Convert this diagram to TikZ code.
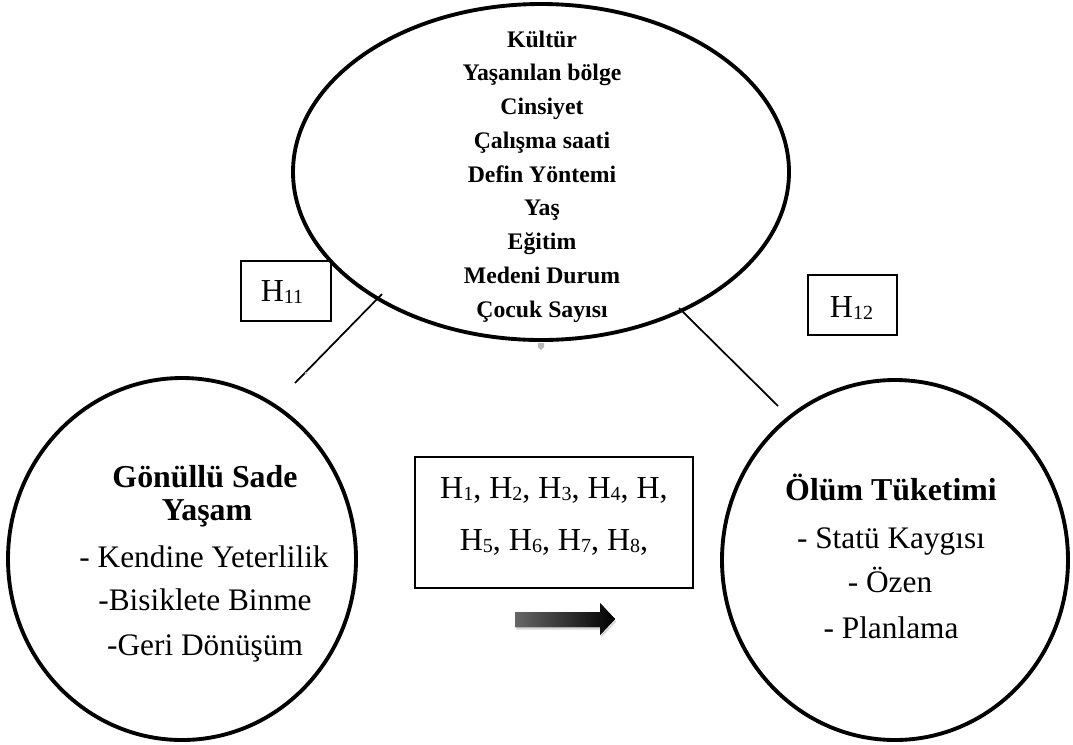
\documentclass[tikz,border=0pt]{standalone}
\usepackage{fontspec}
\setmainfont{Liberation Serif}[BoldFont={Liberation Serif Bold}]
\usetikzlibrary{shapes.geometric,shadows}
% subscript digits for the hypothesis labels
\newcommand{\hsub}[1]{{\fontsize{15}{15}\selectfont\raisebox{-1.5pt}{#1}}}

\begin{document}
\begin{tikzpicture}[x=0.75pt,y=-0.75pt,
  oval/.style={draw,ellipse,line width=2.9pt,inner sep=0pt},
  hbox/.style={draw,line width=0.9pt,inner sep=0pt},
  link/.style={line width=1.3pt},
  toptxt/.style={anchor=base,font=\fontsize{17.8}{20}\selectfont\bfseries,inner sep=0pt},
  bigbold/.style={anchor=base,font=\fontsize{23.9}{28}\selectfont\bfseries,inner sep=0pt},
  bigtxt/.style={anchor=base,font=\fontsize{23.5}{28}\selectfont,inner sep=0pt},
  htxt/.style={anchor=base,font=\fontsize{24}{28}\selectfont,inner sep=0pt}]
\useasboundingbox[fill=white] (0,0) rectangle (1073,744);

% the three variable groups
\node[oval,minimum width=372pt,minimum height=252pt] (demo) at (541,172) {};
\node[oval,minimum width=261pt,minimum height=271.5pt] (gsy) at (182,559) {};
\node[oval,minimum width=259.5pt,minimum height=270pt] (olum) at (895,560) {};

% demographic variables
\node[toptxt] (t1) at (542,47) {Kültür};
\node[toptxt] (t2) at (542,80.75) {Yaşanılan bölge};
\node[toptxt] (t3) at (542,114.5) {Cinsiyet};
\node[toptxt] (t4) at (542,148.25) {Çalışma saati};
\node[toptxt] (t5) at (542,182) {Defin Yöntemi};
\node[toptxt] (t6) at (542,215.75) {Yaş};
\node[toptxt] (t7) at (542,249.5) {Eğitim};
\node[toptxt] (t8) at (542,283.25) {Medeni Durum};
\node[toptxt] (t9) at (542,317) {Çocuk Sayısı};

% voluntary simplicity
\node[bigbold] (g1) at (205,487) {Gönüllü Sade};
\node[bigbold] (g2) at (207,520) {Yaşam};
\node[bigtxt] (g3) at (204,567) {- Kendine Yeterlilik};
\node[bigtxt] (g4) at (205,610) {-Bisiklete Binme};
\node[bigtxt] (g5) at (205,655) {-Geri Dönüşüm};

% death consumption
\node[bigbold] (o1) at (891,500) {Ölüm Tüketimi};
\node[bigtxt] (o2) at (891,548) {- Statü Kaygısı};
\node[bigtxt] (o3) at (890,592) {- Özen};
\node[bigtxt] (o4) at (891,638) {- Planlama};

% hypothesis boxes
\node[hbox,minimum width=67.5pt,minimum height=45pt] (h11) at (286,291) {};
\node[htxt] (h11t) at (282,301) {H\hsub{11}};
\node[hbox,minimum width=66.75pt,minimum height=45pt] (h12) at (852.5,305) {};
\node[htxt] (h12t) at (851.5,317) {H\hsub{12}};
\node[hbox,minimum width=208.5pt,minimum height=98.25pt] (hmid) at (554,522.5) {};
\node[htxt] (hm1) at (554,498) {H\hsub{1}, H\hsub{2}, H\hsub{3}, H\hsub{4}, H,};
\node[htxt] (hm2) at (554,550) {H\hsub{5}, H\hsub{6}, H\hsub{7}, H\hsub{8},};

% connectors between the groups
\coordinate (l1) at (382,294);
\coordinate (l2) at (295,383);
\coordinate (r1) at (679,308);
\coordinate (r2) at (778,406);
\draw[link] (l1) -- (l2);
\draw[link] (r1) -- (r2);

% small handle marks
\fill[gray!55] (538,343) -- (544,343) -- (544,347) -- (541,350) -- (538,347) -- cycle;
\fill[gray!55] (306,373) circle (1.5);

% shaded block arrow
\fill[left color=black!60,right color=black,
      drop shadow={opacity=0.3,shadow xshift=1pt,shadow yshift=-2pt}]
  (515,612) -- (600,612) -- (600,603) -- (615,619) -- (600,635) -- (600,627) -- (515,627) -- cycle;
\end{tikzpicture}
\end{document}
